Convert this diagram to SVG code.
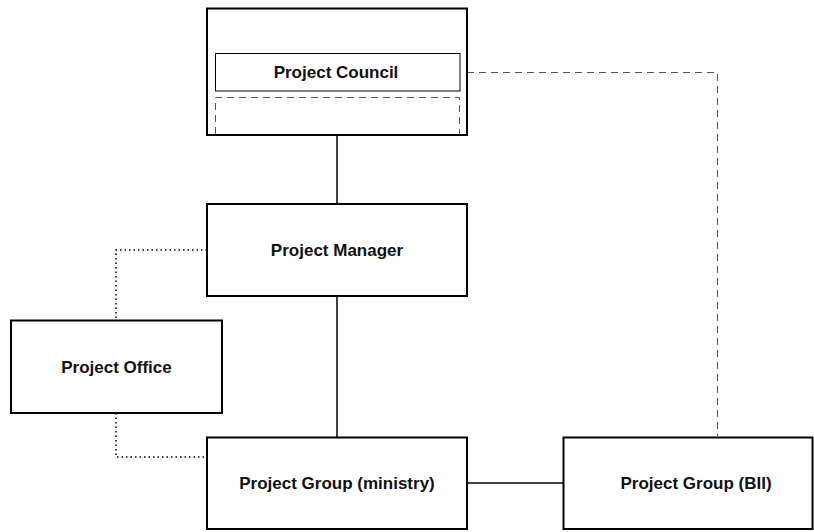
<svg xmlns="http://www.w3.org/2000/svg" width="814" height="532" viewBox="0 0 814 532">
<style>
.box{fill:#fff;stroke:#000;stroke-width:2}
.inner{fill:#fff;stroke:#000;stroke-width:1}
.dash{fill:none;stroke:#555;stroke-width:1;stroke-dasharray:7,5}
.dot{fill:none;stroke:#000;stroke-width:1.5;stroke-dasharray:1.5,3}
.solid{fill:none;stroke:#000;stroke-width:1.5}
text{font-family:"Liberation Sans",Arial,sans-serif;font-weight:bold;font-size:17px;text-anchor:middle;fill:#111}
</style>
<rect width="814" height="532" fill="#fff"/>
<g id="connectors">
<line class="solid" x1="337" y1="135" x2="337" y2="204"/>
<line class="solid" x1="337" y1="296" x2="337" y2="437"/>
<line class="solid" x1="467" y1="483" x2="563" y2="483"/>
<polyline class="dash" points="467,72.5 717.5,72.5 717.5,436"/>
<polyline class="dot" points="207,250 116,250 116,320"/>
<polyline class="dot" points="116,413 116,457 207,457"/>
</g>
<g id="council">
<rect class="box" x="207" y="8.5" width="260" height="126.5"/>
<rect class="inner" x="215.5" y="53.5" width="244.5" height="37.5"/>
<polyline class="dash" points="215.5,134 215.5,97.5 459.5,97.5 459.5,134"/>
<text x="336" y="78">Project Council</text>
</g>
<g id="manager">
<rect class="box" x="207" y="204" width="260" height="92"/>
<text x="337" y="256">Project Manager</text>
</g>
<g id="office">
<rect class="box" x="11" y="320.5" width="211" height="92.5"/>
<text x="116.5" y="373">Project Office</text>
</g>
<g id="ministry">
<rect class="box" x="207" y="437.5" width="260" height="91.5"/>
<text x="337" y="489">Project Group (ministry)</text>
</g>
<g id="bii">
<rect class="box" x="563.5" y="437.5" width="249" height="91.5"/>
<text x="696" y="489">Project Group (BII)</text>
</g>
</svg>
